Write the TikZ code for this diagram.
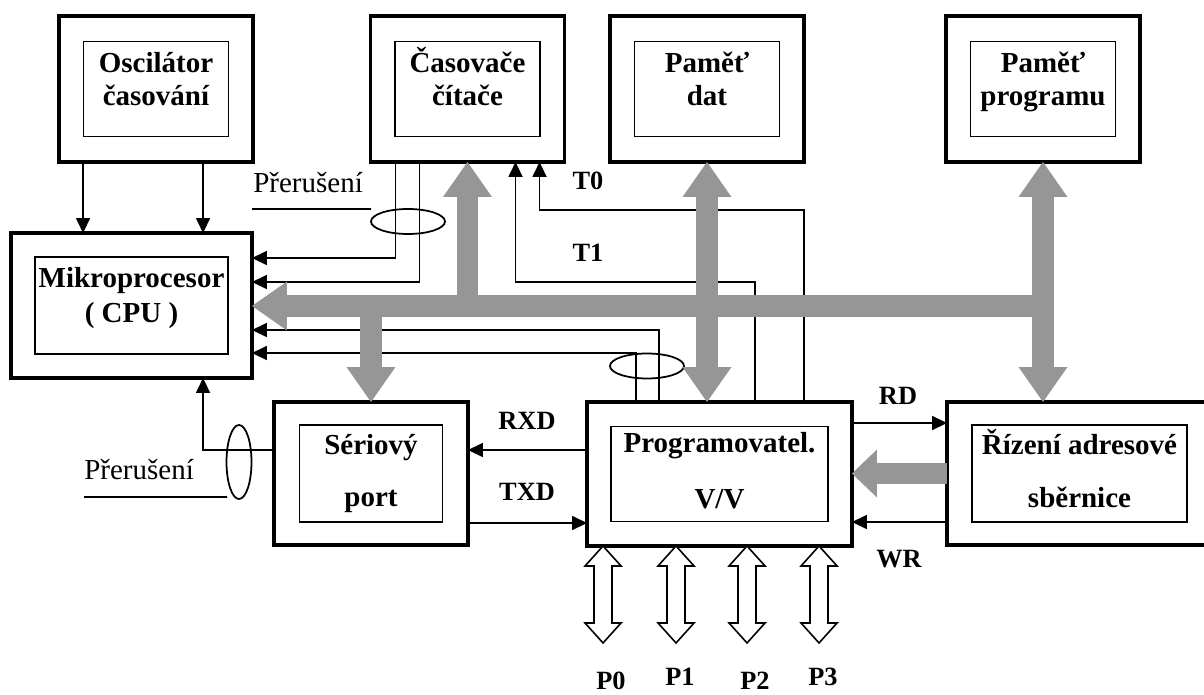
\documentclass[tikz,border=0pt]{standalone}
\usepackage{fontspec}
\setmainfont{Liberation Serif}
\usepackage{tikz}
\usetikzlibrary{arrows.meta,calc,shapes.geometric}
\definecolor{busgray}{RGB}{150,150,150}

\tikzset{
    outerbox/.style={draw, line width=1.8pt, inner sep=0pt, outer sep=0pt},
    innerbox/.style={draw, line width=0.7pt, inner sep=0pt, outer sep=0pt},
    boxtext/.style={font=\fontsize{16.5}{19}\selectfont\bfseries, anchor=base, inner sep=0pt},
    siglabel/.style={font=\fontsize{15}{17}\selectfont\bfseries, anchor=base, inner sep=0pt},
    irqtext/.style={font=\fontsize{16.5}{19}\selectfont, anchor=base west, inner sep=0pt},
    sig/.style={line width=1pt, -{Triangle[length=0.3cm,width=0.28cm]}},
    wire/.style={line width=1pt},
    ring/.style={draw, ellipse, line width=1pt, inner sep=0pt, outer sep=0pt},
    bus/.style={draw=busgray, line width=0.43cm, -{Triangle[length=0.7cm,width=0.98cm,line width=0pt]}},
    bibus/.style={draw=busgray, line width=0.43cm,
        {Triangle[length=0.7cm,width=0.98cm,line width=0pt]}-{Triangle[length=0.7cm,width=0.98cm,line width=0pt]}},
    port/.style={draw, line width=0.9pt, fill=white}
}

\begin{document}
\begin{tikzpicture}[x=0.02cm, y=-0.02cm]
    \useasboundingbox (0,0) rectangle (1204,695);
    \clip (0,0) rectangle (1204,695);

    % Top row of blocks
    \foreach \name/\cx/\lineA/\lineB in {osc/156/Oscilátor/časování, cas/467.5/Časovače/čítače,
                                         pdat/707/Paměť/dat, ppr/1043/Paměť/programu} {
        \node[outerbox, minimum width=3.88cm, minimum height=2.92cm] (\name) at (\cx,89) {};
        \node[innerbox, minimum width=2.9cm, minimum height=1.9cm] (\name-in) at (\name) {};
        \node[boxtext] (\name-t1) at ($(\name)+(0,-16)$) {\lineA};
        \node[boxtext] (\name-t2) at ($(\name)+(0,17)$) {\lineB};
    }

    % Mikroprocesor
    \node[outerbox, minimum width=4.82cm, minimum height=2.9cm] (cpu) at (131.5,305.5) {};
    \node[innerbox, minimum width=3.86cm, minimum height=1.94cm] (cpu-in) at (cpu) {};
    \node[boxtext] (cpu-t1) at ($(cpu)+(0,-17.5)$) {Mikroprocesor};
    \node[boxtext] (cpu-t2) at ($(cpu)+(0,17.5)$) {( CPU )};

    % Seriovy port
    \node[outerbox, minimum width=3.88cm, minimum height=2.86cm] (ser) at (371,473.5) {};
    \node[innerbox, minimum width=2.86cm, minimum height=1.94cm] (ser-in) at (ser) {};
    \node[boxtext] (ser-t1) at ($(ser)+(0,-18.5)$) {Sériový};
    \node[boxtext] (ser-t2) at ($(ser)+(0,33.5)$) {port};

    % Programovatelny V/V
    \node[outerbox, minimum width=5.3cm, minimum height=2.88cm] (prog) at (719.5,474) {};
    \node[innerbox, minimum width=4.34cm, minimum height=1.9cm] (prog-in) at (prog) {};
    \node[boxtext] (prog-t1) at ($(prog)+(0,-21)$) {Programovatel.};
    \node[boxtext] (prog-t2) at ($(prog)+(0,35)$) {V/V};

    % Rizeni adresove sbernice
    \node[outerbox, minimum width=5.3cm, minimum height=2.86cm] (riz) at (1079.5,473.5) {};
    \node[innerbox, minimum width=4.3cm, minimum height=1.94cm] (riz-in) at (riz) {};
    \node[boxtext] (riz-t1) at ($(riz)+(0,-18.5)$) {Řízení adresové};
    \node[boxtext] (riz-t2) at ($(riz)+(0,34.5)$) {sběrnice};

    % Signal wires
    \draw[sig] ($(osc.south west)+(24,0)$) -- ($(cpu.north west)+(72,0)$);
    \draw[sig] ($(osc.south west)+(144,0)$) -- ($(cpu.north west)+(192,0)$);
    \draw[sig] ($(cas.south west)+(25,0)$) |- ($(cpu.north east)+(0,25)$);
    \draw[sig] ($(cas.south west)+(49,0)$) |- ($(cpu.north east)+(0,49)$);
    \draw[sig] ($(prog.north west)+(72,0)$) |- ($(cpu.north east)+(0,97)$);
    \draw[sig] ($(prog.north west)+(49,0)$) |- ($(cpu.north east)+(0,120)$);
    \draw[sig] ($(prog.north west)+(168,0)$) |- ($(cas.south west)+(145,120)$) -- ($(cas.south west)+(145,0)$);
    \draw[sig] ($(prog.north west)+(217,0)$) |- ($(cas.south west)+(169,48)$) -- ($(cas.south west)+(169,0)$);
    \draw[sig] ($(prog.north west)+(0,48)$) -- ($(ser.north east)+(0,48)$);
    \draw[sig] ($(ser.north east)+(0,121)$) -- ($(prog.north west)+(0,121)$);
    \draw[sig] ($(ser.north west)+(0,48)$) -| ($(cpu.south west)+(192,0)$);
    \draw[sig] ($(prog.north east)+(0,21)$) -- ($(riz.north west)+(0,21)$);
    \draw[sig] ($(riz.north west)+(0,120)$) -- ($(prog.north east)+(0,120)$);

    % Signal names
    \node[siglabel] (t0) at (588,190) {T0};
    \node[siglabel] (t1) at (588,262) {T1};
    \node[siglabel] (rxd) at (527,430) {RXD};
    \node[siglabel] (txd) at (527,501) {TXD};
    \node[siglabel] (rd) at (898,405) {RD};
    \node[siglabel] (wr) at (899,568) {WR};

    % Interrupt bundles
    \node[ring, minimum width=1.48cm, minimum height=0.5cm] (ring-cas) at (408,221.5) {};
    \node[ring, minimum width=1.48cm, minimum height=0.5cm] (ring-prog) at (647,366) {};
    \node[ring, minimum width=0.5cm, minimum height=1.48cm] (ring-ser) at (239,462) {};
    \node[irqtext] (irq-cas) at (253,193) {Přerušení};
    \draw[wire] ($(irq-cas.base west)+(-1,16)$) -- (ring-cas.west |- ring-cas.north);
    \node[irqtext] (irq-ser) at (84,480) {Přerušení};
    \draw[wire] ($(irq-ser.base west)+(0,17)$) -- ($(ring-ser.south)+(-12,-2)$);

    % Data bus
    \coordinate (busend) at ($(ppr.south)+(11,144)$);
    \draw[bus] (busend) -- (cpu.east |- busend);
    \draw[bus] (cas.south |- busend) -- (cas.south);
    \draw[bus] (ser.north |- busend) -- (ser.north);
    \draw[bibus] (pdat.south) -- (pdat.south |- prog.north);
    \draw[bibus] (ppr.south) -- (ppr.south |- riz.north);
    \draw[bus, -{Triangle[length=0.5cm,width=0.96cm,line width=0pt]}] (riz.west) -- (prog.east |- riz.west);

    % Ports P0-P3
    \foreach \px/\pname/\lx/\ly in {16/P0/8/144, 89/P1/4/140, 160/P2/8/144, 232/P3/4/140} {
        \coordinate (top-\pname) at ($(prog.south west)+(\px,0)$);
        \draw[port] (top-\pname) -- ++(18,20) -- ++(-9,0) -- ++(0,57) -- ++(9,0) -- ++(-18,20)
            -- ++(-18,-20) -- ++(9,0) -- ++(0,-57) -- ++(-9,0) -- cycle;
        \node[siglabel] (lab-\pname) at ($(top-\pname)+(\lx,\ly)$) {\pname};
    }
\end{tikzpicture}
\end{document}
